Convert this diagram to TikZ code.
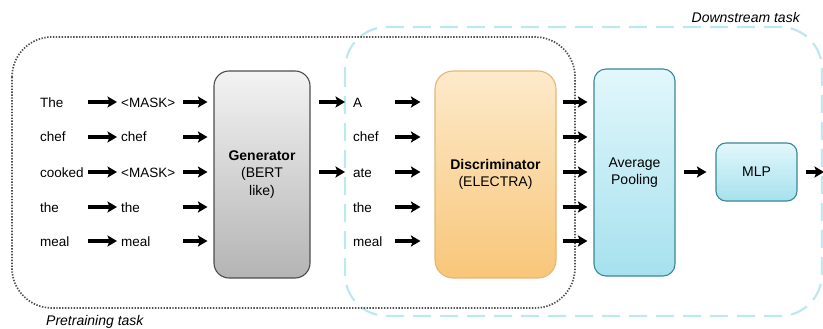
\documentclass[tikz,border=0pt]{standalone}
\usepackage{fontspec}
\setmainfont{Liberation Sans}
\usetikzlibrary{arrows.meta,calc}

\definecolor{genTop}{HTML}{F3F3F3}
\definecolor{genBot}{HTML}{B4B4B4}
\definecolor{genLine}{HTML}{4D4D4D}
\definecolor{discTop}{HTML}{FDEACB}
\definecolor{discBot}{HTML}{F8C679}
\definecolor{discLine}{HTML}{E2B877}
\definecolor{cyTop}{HTML}{E2F7FB}
\definecolor{cyBot}{HTML}{A6E1EE}
\definecolor{cyLine}{HTML}{3B8797}
\definecolor{dashCy}{HTML}{BDE8F0}
\definecolor{dotGray}{HTML}{505050}

\begin{document}
\begin{tikzpicture}[x=1pt,y=-1pt,
  every node/.style={font=\fontsize{14}{17.5}\selectfont},
  word/.style={anchor=west, inner sep=0pt, text height=10pt, text depth=0pt, align=left,
    font=\fontsize{13.5}{16}\selectfont},
  wordL/.style={word, text width=46pt},
  wordM/.style={word, text width=60pt},
  wordR/.style={word, text width=42pt},
  flow/.style={line width=3.2pt, -{Stealth[length=9.5pt,width=11pt,inset=2pt]}},
  block/.style={draw, line width=1.1pt, align=center, inner sep=0pt},
  genbox/.style={block, draw=genLine, top color=genTop, bottom color=genBot, rounded corners=15pt},
  discbox/.style={block, draw=discLine, top color=discTop, bottom color=discBot, rounded corners=18pt},
  cybox/.style={block, draw=cyLine, top color=cyTop, bottom color=cyBot, rounded corners=12pt},
  pretrainframe/.style={draw=dotGray, line width=1.7pt, dash pattern=on 1.4pt off 1.5pt, rounded corners=40pt},
  downframe/.style={draw=dashCy, line width=2.2pt, dash pattern=on 18pt off 9pt, rounded corners=42pt},
  tasklabel/.style={font=\fontsize{14}{16}\selectfont\itshape, inner sep=0pt}
]
\useasboundingbox (0,0) rectangle (823,329);

% task frames
\draw[downframe] (345,27) rectangle (822,316);
\draw[pretrainframe] (12,37) rectangle (575,308);
\node[tasklabel, anchor=east] (down) at (800,17) {Downstream task};
\node[tasklabel, anchor=west] (pre) at (46,322) {Pretraining task};

% model blocks
\node[genbox, minimum width=96pt, minimum height=207pt] (gen) at (262,174.5)
  {\textbf{Generator}\\(BERT\\like)};
\node[discbox, minimum width=121pt, minimum height=207pt] (disc) at (495.5,174.5)
  {\textbf{Discriminator}\\(ELECTRA)};
\node[cybox, minimum width=81pt, minimum height=207pt] (avg) at (634.5,172.5)
  {Average\\Pooling};
\node[cybox, rounded corners=10pt, minimum width=81pt, minimum height=58pt] (mlp) at (756.5,172)
  {MLP};
\coordinate (out) at (824,172);

% token columns
\foreach \i/\y/\a/\b/\c in {1/102/The/<MASK>/A, 2/137/chef/chef/chef,
    3/172/cooked/<MASK>/ate, 4/207/the/the/the, 5/241/meal/meal/meal}{
  \node[wordL] (l\i) at (40,\y) {\a};
  \node[wordM] (m\i) at (121,\y) {\b};
  \node[wordR] (r\i) at (353,\y) {\c};
  \draw[flow, shorten <=2pt, shorten >=4pt] (l\i.east) -- (m\i.west);
  \draw[flow, shorten <=2pt, shorten >=6pt] (m\i.east) -- (m\i.east -| gen.west);
  \draw[flow, shorten >=14pt] (r\i.east) -- (r\i.east -| disc.west);
  \draw[flow, shorten <=6pt, shorten >=6pt] (disc.east |- r\i.east) -- (avg.west |- r\i.east);
}

% generator outputs
\draw[flow, shorten <=8pt, shorten >=8pt] (gen.east |- r1.west) -- (r1.west);
\draw[flow, shorten <=8pt, shorten >=8pt] (gen.east |- r3.west) -- (r3.west);

% downstream head
\draw[flow, shorten <=8pt, shorten >=9pt] (avg.east |- mlp.west) -- (mlp.west);
\draw[flow, shorten <=8pt] (mlp.east) -- (out);
\end{tikzpicture}
\end{document}
